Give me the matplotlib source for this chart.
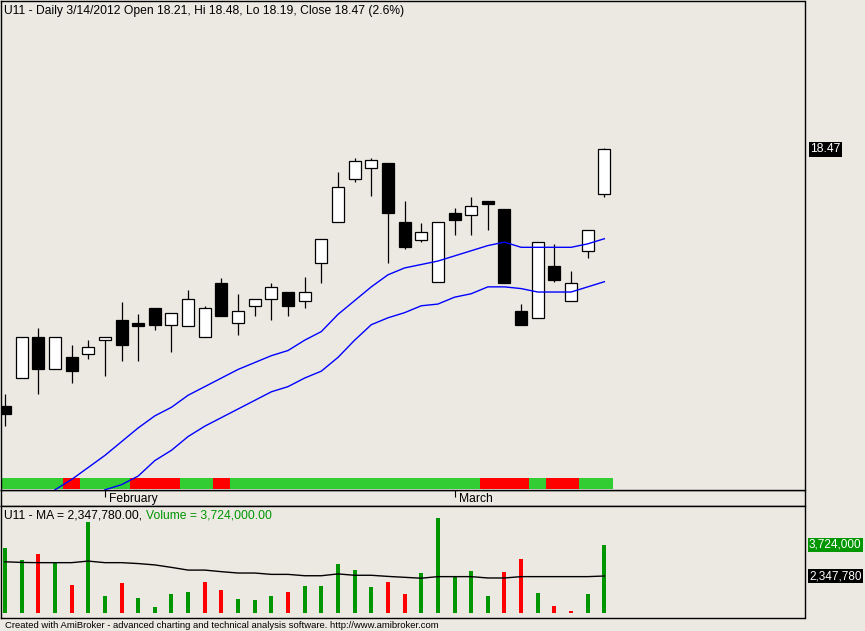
import matplotlib
matplotlib.use("Agg")
import matplotlib.pyplot as plt
import matplotlib.transforms as mtransforms
import numpy as np

# ---------------- data ----------------
symbol = "U11"
last_date = "3/14/2012"
month_labels = ["February", "March"]
month_start_index = [6, 27]

opens  = [16.98, 17.14, 17.38, 17.19, 17.26, 17.28, 17.36, 17.48, 17.46, 17.55,
          17.45, 17.44, 17.38, 17.69, 17.46, 17.56, 17.60, 17.64, 17.59, 17.81,
          18.05, 18.30, 18.36, 18.39, 18.05, 17.94, 17.70, 18.10, 18.09, 18.17,
          18.12, 17.53, 17.49, 17.79, 17.59, 17.88, 18.21]
highs  = [17.05, 17.38, 17.43, 17.38, 17.33, 17.36, 17.38, 17.58, 17.51, 17.55,
          17.52, 17.65, 17.56, 17.72, 17.63, 17.60, 17.69, 17.64, 17.73, 17.95,
          18.34, 18.42, 18.42, 18.39, 18.17, 18.04, 18.05, 18.13, 18.19, 18.17,
          18.12, 17.57, 17.93, 17.92, 17.76, 18.00, 18.48]
lows   = [16.86, 17.14, 17.05, 17.19, 17.11, 17.25, 17.15, 17.24, 17.24, 17.42,
          17.29, 17.44, 17.38, 17.50, 17.39, 17.50, 17.48, 17.50, 17.55, 17.69,
          18.05, 18.28, 18.20, 17.81, 17.89, 17.93, 17.70, 17.97, 17.97, 18.00,
          17.69, 17.45, 17.49, 17.70, 17.59, 17.84, 18.19]
closes = [16.93, 17.38, 17.19, 17.38, 17.18, 17.32, 17.38, 17.33, 17.44, 17.45,
          17.52, 17.60, 17.55, 17.50, 17.53, 17.60, 17.67, 17.56, 17.64, 17.95,
          18.25, 18.40, 18.41, 18.10, 17.90, 17.99, 18.05, 18.06, 18.14, 18.15,
          17.69, 17.45, 17.93, 17.71, 17.69, 18.00, 18.47]

upper_line = [np.nan, np.nan, np.nan, 16.49, 16.55, 16.62, 16.69, 16.77, 16.85, 16.92,
              16.97, 17.04, 17.09, 17.14, 17.19, 17.23, 17.27, 17.30, 17.36, 17.41,
              17.51, 17.59, 17.67, 17.74, 17.78, 17.80, 17.82, 17.85, 17.88, 17.91,
              17.93, 17.90, 17.90, 17.90, 17.90, 17.92, 17.95]
lower_line = [np.nan, np.nan, np.nan, np.nan, np.nan, np.nan, 16.49, 16.52, 16.57, 16.66,
              16.72, 16.80, 16.86, 16.91, 16.96, 17.01, 17.06, 17.09, 17.14, 17.18,
              17.26, 17.36, 17.45, 17.49, 17.52, 17.56, 17.57, 17.61, 17.63, 17.67,
              17.67, 17.66, 17.64, 17.64, 17.64, 17.67, 17.70]

ribbon_state = list("GGGGRGGGRRRGGRGGGGGGGGGGGGGGGRRRGRRGG")

volume = [3577000, 3058000, 3324000, 2938000, 1949000, 4731000, 1460000, 2037000,
          1371000, 972000, 1549000, 1638000, 2082000, 1727000, 1327000, 1283000,
          1460000, 1638000, 1904000, 1904000, 2881000, 2614000, 1860000, 2082000,
          1549000, 2481000, 4909000, 2348000, 2570000, 1460000, 2526000, 3103000,
          1593000, 1016000, 794000, 1549000, 3724000]
volume_ma = [2980000, 2950000, 2940000, 2940000, 2940000, 3010000, 2940000, 2940000,
             2900000, 2840000, 2730000, 2610000, 2610000, 2540000, 2480000, 2480000,
             2420000, 2420000, 2360000, 2360000, 2440000, 2380000, 2380000, 2330000,
             2290000, 2250000, 2320000, 2320000, 2320000, 2260000, 2260000, 2320000,
             2320000, 2320000, 2320000, 2320000, 2347780]
volume_dir = list("UUDUDUUDUUUUDDUUUDUUUUUDDUUUUUDDUDDUU")

# ---------------- style ----------------
W, H = 865, 631
BG = "#ECE9E3"
GREEN_VOL = "#009600"
RIB_GREEN = "#32CD32"
RED = "#FF0000"
FONT = ["Liberation Sans", "DejaVu Sans"]
FS = 8.7
plt.rcParams['font.family'] = FONT

fig = plt.figure(figsize=(W / 100, H / 100), dpi=100, facecolor=BG)

def fax(x0, y0, x1, y1):
    return fig.add_axes([x0 / W, (H - y1) / H, (x1 - x0) / W, (y1 - y0) / H])

axd = fax(0.5, 490, 804.5, 506)
axv = fax(0.5, 506, 804.5, 618)
ax = fax(0.5, 1, 804.5, 490)

n = len(closes)
idx = np.arange(n)
xlim = (-0.27, 48.02)

for a in (ax, axd, axv):
    a.set_facecolor(BG)
    a.set_xlim(*xlim)
    for s in a.spines.values():
        s.set_color("black")
        s.set_linewidth(1.0)
    a.set_yticks([])
axd.patch.set_visible(False)

# ---------------- main price panel ----------------
ax.set_ylim(16.489, 19.332)
o = np.array(opens); c = np.array(closes); h = np.array(highs); l = np.array(lows)
up = c >= o
ax.vlines(idx, l, h, color="black", lw=0.9, zorder=2)
ax.bar(idx, np.abs(c - o), bottom=np.minimum(o, c), width=0.72,
       color=np.where(up, "white", "black"), edgecolor="black", linewidth=0.9, zorder=3)

trans_rib = mtransforms.blended_transform_factory(ax.transData, ax.transAxes)
rib_colors = [RIB_GREEN if s == "G" else RED for s in ribbon_state]
ax.bar(idx, 0.0225, bottom=0.00204, width=1.0, color=rib_colors, linewidth=0,
       transform=trans_rib, zorder=1)

ax.plot(idx, upper_line, color="#0000FF", lw=1.0, zorder=5)
ax.plot(idx, lower_line, color="#0000FF", lw=1.0, zorder=5)

ax.set_xticks(month_start_index)
ax.tick_params(axis="x", direction="out", length=5, width=0.8, color="black",
               labelbottom=False)

pct = (closes[-1] / closes[-2] - 1) * 100
title = (f"{symbol} - Daily {last_date} Open {opens[-1]:.2f}, Hi {highs[-1]:.2f}, "
         f"Lo {lows[-1]:.2f}, Close {closes[-1]:.2f} ({pct:.1f}%)")
ax.annotate(title, xy=(0, 1), xycoords="axes fraction", xytext=(3, -13),
            textcoords="offset pixels", ha="left", va="baseline", fontsize=FS,
            color="black", annotation_clip=False)

ax.annotate(f"{closes[-1]:.2f}", xy=(1, closes[-1]), xycoords=("axes fraction", "data"),
            xytext=(6, 0), textcoords="offset pixels", ha="left", va="center",
            fontsize=FS, color="white", annotation_clip=False,
            bbox=dict(boxstyle="square,pad=0.12", fc="black", ec="none"))

# ---------------- date strip ----------------
axd.set_xticks([])
axd.set_ylim(0, 1)
for i, lab in zip(month_start_index, month_labels):
    axd.annotate(lab, xy=(i, 1), xycoords=("data", "axes fraction"), xytext=(4.5, -11.7),
                 textcoords="offset pixels", ha="left", va="baseline", fontsize=FS,
                 color="black")

# ---------------- volume panel ----------------
axv.set_ylim(483800, 5455000)
axv.set_xticks([])
vbase = 692000
vcol = [GREEN_VOL if d == "U" else RED for d in volume_dir]
axv.vlines(idx, vbase, volume, colors=vcol, linewidth=1.45, antialiased=False)
axv.plot(idx, volume_ma, color="black", lw=1.0)

t1 = axv.annotate(f"{symbol} - MA = {volume_ma[-1]:,.2f},", xy=(0, 1), xycoords="axes fraction",
                  xytext=(3.5, -12.3), textcoords="offset pixels", ha="left",
                  va="baseline", fontsize=FS, color="black")
fig.canvas.draw()
bb = t1.get_window_extent(fig.canvas.get_renderer())
fig.text((bb.x1 + 3.5) / W, (H - 518.3) / H, f"Volume = {volume[-1]:,.2f}",
         ha="left", va="baseline", fontsize=FS, color=GREEN_VOL)

for val, col in ((volume[-1], GREEN_VOL), (volume_ma[-1], "black")):
    axv.annotate(f"{val:,.0f}", xy=(1, val), xycoords=("axes fraction", "data"),
                 xytext=(4.5, 0), textcoords="offset pixels", ha="left", va="center",
                 fontsize=8.5, color="white", annotation_clip=False,
                 bbox=dict(boxstyle="square,pad=0.1", fc=col, ec="none"))

fig.text(5 / W, (H - 628.5) / H,
         "Created with AmiBroker - advanced charting and technical analysis software. http://www.amibroker.com",
         ha="left", va="baseline", fontsize=6.8, color="black")

fig.savefig("out.png", dpi=100, facecolor=BG)
